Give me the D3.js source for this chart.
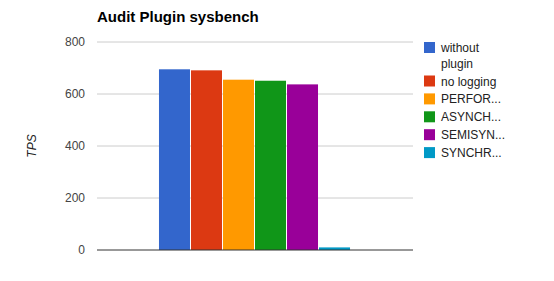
<!DOCTYPE html>
<html>
<head>
<meta charset="utf-8">
<script src="https://cdn.jsdelivr.net/npm/d3@7"></script>
<style>
  body { margin: 0; background: #fff; }
  svg { font-family: "Liberation Sans", Arial, sans-serif; }
</style>
</head>
<body>
<div id="chart"></div>
<script>
// donnees
var categories = [""];
var series = ["without plugin", "no logging", "PERFOR...", "ASYNCH...", "SEMISYN...", "SYNCHR..."];
var values = [695, 691, 655, 651, 637, 10];
var colors = ["#3366cc", "#dc3912", "#ff9900", "#109618", "#990099", "#0099c6"];
var yTicks = [0, 200, 400, 600, 800];

var width = 554, height = 281;
var margin = {top: 42, right: 141, bottom: 31, left: 97};
var plotW = width - margin.left - margin.right;
var plotH = height - margin.top - margin.bottom;

var svg = d3.select("#chart").append("svg")
  .attr("width", width)
  .attr("height", height);

// titre
svg.append("text")
  .attr("x", margin.left)
  .attr("y", 22)
  .attr("font-size", 15)
  .attr("font-weight", "bold")
  .attr("fill", "#000")
  .text("Audit Plugin sysbench");

var g = svg.append("g")
  .attr("transform", "translate(" + margin.left + "," + margin.top + ")");

var x = d3.scaleBand().domain(categories).range([0, plotW])
  .paddingInner(0.244).paddingOuter(0.244);
var xs = d3.scaleBand().domain(series).range([0, x.bandwidth()]);
var y = d3.scaleLinear().domain([0, 800]).range([plotH, 0]);

// grille horizontale
g.selectAll(".grid").data(yTicks.filter(function(d){ return d > 0; }))
  .enter().append("line")
  .attr("x1", 0).attr("x2", plotW)
  .attr("y1", function(d){ return y(d); })
  .attr("y2", function(d){ return y(d); })
  .attr("stroke", "#cccccc");

// axe Y (labels seulement)
var yAxis = g.append("g").call(d3.axisLeft(y).tickValues(yTicks).tickSize(0).tickPadding(12));
yAxis.select(".domain").remove();
yAxis.selectAll("text")
  .attr("font-size", 12)
  .attr("font-family", "Liberation Sans, Arial, sans-serif")
  .attr("fill", "#444");

svg.append("text")
  .attr("transform", "translate(36," + (margin.top + plotH / 2) + ") rotate(-90)")
  .attr("text-anchor", "middle")
  .attr("font-size", 12)
  .attr("font-style", "italic")
  .attr("fill", "#222")
  .text("TPS");

// barres
var grp = g.selectAll(".cat").data(categories).enter().append("g")
  .attr("transform", function(d){ return "translate(" + x(d) + ",0)"; });

grp.selectAll("rect").data(series.map(function(s, i){ return {s: s, v: values[i], c: colors[i]}; }))
  .enter().append("rect")
  .attr("x", function(d){ return xs(d.s); })
  .attr("width", xs.bandwidth() - 1)
  .attr("y", function(d){ return y(d.v); })
  .attr("height", function(d){ return y(0) - y(d.v); })
  .attr("fill", function(d){ return d.c; });

// ligne de base
g.append("line")
  .attr("x1", 0).attr("x2", plotW)
  .attr("y1", y(0)).attr("y2", y(0))
  .attr("stroke", "#333");

// legende
var lineH = 15.6, gap = 2.3;
var legend = svg.append("g").attr("transform", "translate(424,42)");
var cy = 0;
series.forEach(function(name, i){
  var lines = name === "without plugin" ? ["without", "plugin"] : [name];
  var item = legend.append("g").attr("transform", "translate(0," + cy + ")");
  item.append("rect")
    .attr("width", 11).attr("height", 11)
    .attr("fill", colors[i]);
  lines.forEach(function(t, j){
    item.append("text")
      .attr("x", 17)
      .attr("y", 10 + j * lineH)
      .attr("font-size", 12)
      .attr("fill", "#222")
      .text(t);
  });
  cy += lines.length * lineH + gap;
});
</script>
</body>
</html>
